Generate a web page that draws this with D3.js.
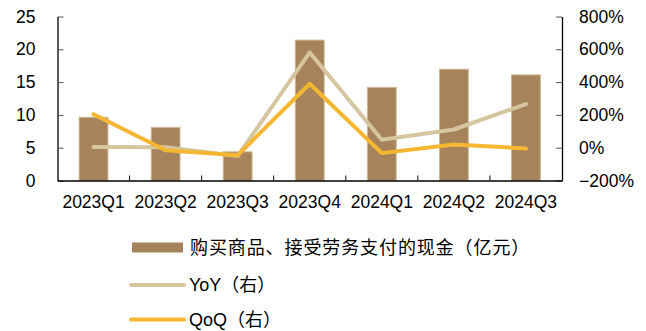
<!DOCTYPE html>
<html>
<head>
<meta charset="utf-8">
<script src="https://cdn.jsdelivr.net/npm/d3@7/dist/d3.min.js"></script>
<style>
  html, body { margin: 0; padding: 0; background: #fff; }
  svg { display: block; }
  text { font-family: "Liberation Sans", Arial, sans-serif; fill: #000; }
  .legend-text { font-family: "Liberation Sans", "Noto Sans CJK SC", sans-serif; }
</style>
</head>
<body>
<svg id="chart" width="646" height="331"></svg>
<script>
// Quarterly cash paid for goods and services (100M CNY) with YoY / QoQ growth
const quarters = ["2023Q1", "2023Q2", "2023Q3", "2023Q4", "2024Q1", "2024Q2", "2024Q3"];
const cashPaid = [9.63, 8.10, 4.37, 21.4, 14.2, 16.96, 16.1];
const yoy = [0.04, 0.03, -0.51, 5.81, 0.49, 1.11, 2.66];
const qoq = [2.04, -0.16, -0.46, 3.90, -0.33, 0.20, -0.05];
const leftTicks = [0, 5, 10, 15, 20, 25];
const rightTicks = [-2, 0, 2, 4, 6, 8];

const colors = { bar: "#A6835B", barEdge: "#CDB894", yoy: "#D6C6A0", qoq: "#F5B731" };

const svg = d3.select("#chart");
const plot = { left: 57.5, right: 562, top: 16.5, bottom: 180.5 };

const x = d3.scaleBand().domain(quarters).range([plot.left, plot.right]).paddingInner(0).paddingOuter(0);
const yL = d3.scaleLinear().domain([0, 25]).range([plot.bottom, plot.top]);
const yR = d3.scaleLinear().domain([-2, 8]).range([plot.bottom, plot.top]);

const barW = x.bandwidth() * 0.4;

// bars
svg.append("g").selectAll("rect").data(cashPaid).join("rect")
  .attr("x", (d, i) => x(quarters[i]) + (x.bandwidth() - barW) / 2)
  .attr("y", d => yL(d))
  .attr("width", barW)
  .attr("height", d => yL(0) - yL(d))
  .attr("fill", colors.bar)
  .attr("stroke", colors.barEdge)
  .attr("stroke-width", 1);

const cx = (d, i) => x(quarters[i]) + x.bandwidth() / 2;

// growth lines (right axis)
const growthLine = d3.line().x(cx).y(d => yR(d));
svg.append("path").datum(yoy)
  .attr("d", growthLine)
  .attr("fill", "none")
  .attr("stroke", colors.yoy)
  .attr("stroke-width", 4)
  .attr("stroke-linejoin", "round")
  .attr("stroke-linecap", "round");

svg.append("path").datum(qoq)
  .attr("d", growthLine)
  .attr("fill", "none")
  .attr("stroke", colors.qoq)
  .attr("stroke-width", 4)
  .attr("stroke-linejoin", "round")
  .attr("stroke-linecap", "round");

// axes
const fontSize = "17.5px";
const axisLeft = d3.axisLeft(yL).tickValues(leftTicks).tickSize(-6).tickPadding(22).tickSizeOuter(0);
const gL = svg.append("g").attr("transform", `translate(${plot.left},0)`).call(axisLeft);
gL.selectAll("text").style("font-size", fontSize);

const axisRight = d3.axisRight(yR).tickValues(rightTicks).tickSize(-6).tickPadding(17).tickSizeOuter(0)
  .tickFormat(d => d3.format(".0f")(d * 100) + "%");
const gR = svg.append("g").attr("transform", `translate(${plot.right},0)`).call(axisRight);
gR.selectAll("text").style("font-size", fontSize);

const axisBottom = d3.axisBottom(x).tickSize(0).tickPadding(15).tickSizeOuter(0);
const gB = svg.append("g").attr("transform", `translate(0,${plot.bottom})`).call(axisBottom);
gB.selectAll("text").style("font-size", fontSize);

// inward category separators on baseline
svg.append("g").selectAll("line").data(quarters.slice(1)).join("line")
  .attr("x1", d => x(d)).attr("x2", d => x(d))
  .attr("y1", plot.bottom).attr("y2", plot.bottom - 5)
  .attr("stroke", "#000").attr("stroke-width", 1);

svg.selectAll(".domain").attr("stroke", "#000").attr("stroke-width", 1.3);
svg.selectAll(".tick line").attr("stroke", "#555");

// legend
const legend = svg.append("g");
legend.append("rect").attr("x", 132).attr("y", 242.5).attr("width", 51).attr("height", 10).attr("fill", colors.bar);
legend.append("text").attr("class", "legend-text").attr("x", 190).attr("y", 247.5).attr("dominant-baseline", "central")
  .style("font-size", "18px").style("letter-spacing", "0.9px").text("购买商品、接受劳务支付的现金（亿元）");

legend.append("line").attr("x1", 131).attr("x2", 184).attr("y1", 285).attr("y2", 285)
  .attr("stroke", colors.yoy).attr("stroke-width", 4).attr("stroke-linecap", "round");
legend.append("text").attr("class", "legend-text").attr("x", 189).attr("y", 285).attr("dominant-baseline", "central")
  .style("font-size", "18px").text("YoY（右）");

legend.append("line").attr("x1", 131).attr("x2", 184).attr("y1", 319.5).attr("y2", 319.5)
  .attr("stroke", colors.qoq).attr("stroke-width", 4).attr("stroke-linecap", "round");
legend.append("text").attr("class", "legend-text").attr("x", 189).attr("y", 319.5).attr("dominant-baseline", "central")
  .style("font-size", "18px").text("QoQ（右）");
</script>
</body>
</html>
